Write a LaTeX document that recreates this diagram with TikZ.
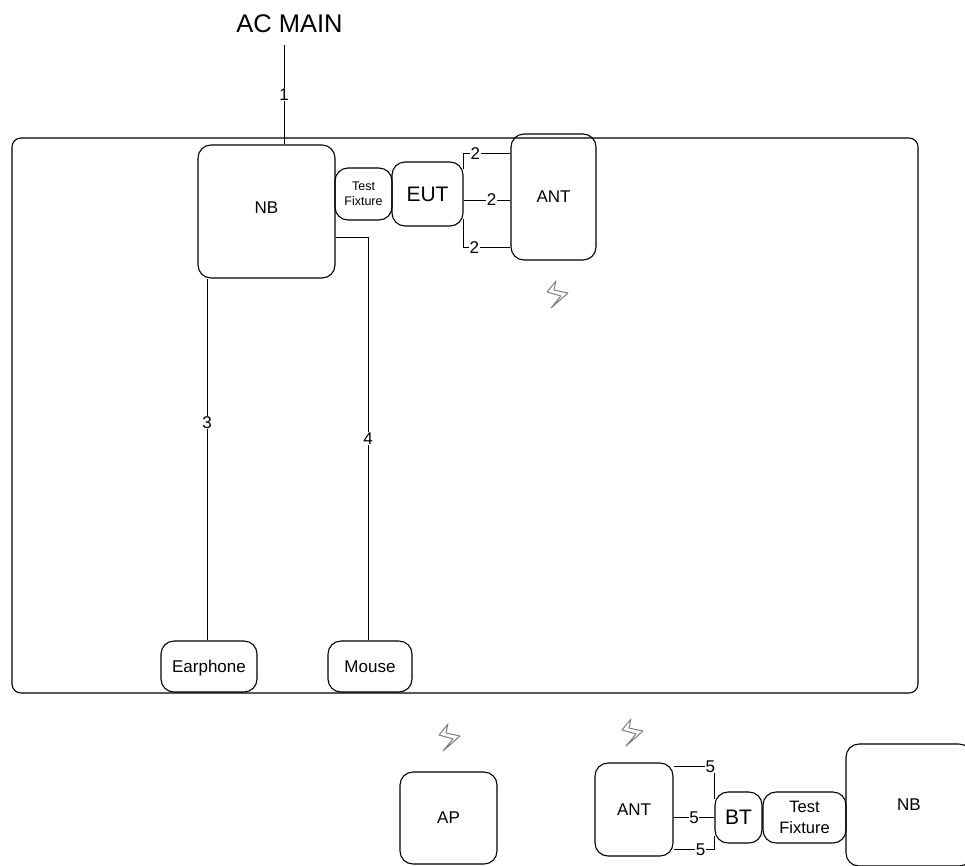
\documentclass[tikz,border=0pt]{standalone}
\usepackage{fontspec}
\setmainfont{Liberation Sans}
\tikzset{
box/.style={draw,line width=1.1pt,rounded corners=13pt,inner sep=0pt,align=center,font=\fontsize{17}{21}\selectfont},
wire/.style={line width=0.6pt},
num/.style={fill=white,inner sep=0.6pt,font=\fontsize{17}{19}\selectfont},
bolt/.style={draw=gray,fill=white,line width=1pt,line join=round},
}
\begin{document}
\begin{tikzpicture}[x=1pt,y=-1pt]
\clip (0,0) rectangle (965,865);
\node[font=\fontsize{25.5}{28}\selectfont] (acmain) at (289.5,24) {AC MAIN};
\draw[line width=1.1pt,rounded corners=9pt] (12,138) rectangle (918,693);
\node[box,minimum width=137pt,minimum height=133pt] (nb) at (266.5,211.5) {\raisebox{7pt}{NB}};
\node[box,minimum width=57pt,minimum height=52pt,font=\fontsize{12.5}{15}\selectfont] (fixa) at (363.5,194) {Test\\Fixture};
\node[box,minimum width=71pt,minimum height=64pt,font=\fontsize{21}{24}\selectfont] (eut) at (427.5,194) {EUT};
\node[box,minimum width=85pt,minimum height=126pt] (anta) at (553.5,197) {ANT};
\node[box,minimum width=96pt,minimum height=51pt,text depth=0pt] (earphone) at (209,666.5) {Earphone};
\node[box,minimum width=84pt,minimum height=51pt] (mouse) at (370,666.5) {Mouse};
\node[box,minimum width=97pt,minimum height=92pt] (ap) at (448.5,818) {AP};
\node[box,minimum width=78pt,minimum height=93pt] (antb) at (634,809.5) {ANT};
\node[box,minimum width=47pt,minimum height=51pt,font=\fontsize{21}{24}\selectfont] (bt) at (738.5,817.5) {BT};
\node[box,minimum width=83pt,minimum height=51pt,font=\fontsize{16.5}{21}\selectfont] (fixb) at (804.5,817.5) {Test\\Fixture};
\node[box,minimum width=126pt,minimum height=122pt] (nbb) at (909,805) {NB};
\coordinate (acend) at (284,45);
% power and the cables of the table
\draw[line width=1pt] (acend) -- node[num]{1} (acend |- nb.north);
\draw[wire] ([yshift=-8pt]eut.north east) |- node[num,pos=0.625]{2} ([yshift=-20pt]anta.north west);
\draw[wire] (eut.east |- 0,200) -- node[num,pos=0.6]{2} (anta.west |- 0,200);
\draw[wire] ([yshift=8pt]eut.south east) |- node[num,pos=0.615]{2} ([yshift=13pt]anta.south west);
\draw[wire] ([xshift=-2pt]earphone.north |- nb.south) -- node[num,pos=0.397]{3} ([xshift=-2pt]earphone.north);
\draw[wire] ([yshift=-25.5pt]nb.east) -| node[num,pos=0.75]{4} ([xshift=-2pt]mouse.north);
\draw[wire] ([yshift=-4pt]antb.north east) -| node[num,pos=0.45]{5} ([yshift=-8pt]bt.north west);
\draw[wire] (antb.east |- bt.west) -- node[num,pos=0.5]{5} (bt.west);
\draw[wire] ([yshift=7pt]antb.south east) -| node[num,pos=0.33]{5} ([yshift=8pt]bt.south west);
% wireless marks
\foreach \bx/\by in {557/294,449/737,632/732}
\draw[bolt,shift={(\bx,\by)}] (-1,-13) -- (-10,-2) -- (4,2) -- (-6,14) -- (11,-1) -- (-3,-4) -- cycle;
\end{tikzpicture}
\end{document}
